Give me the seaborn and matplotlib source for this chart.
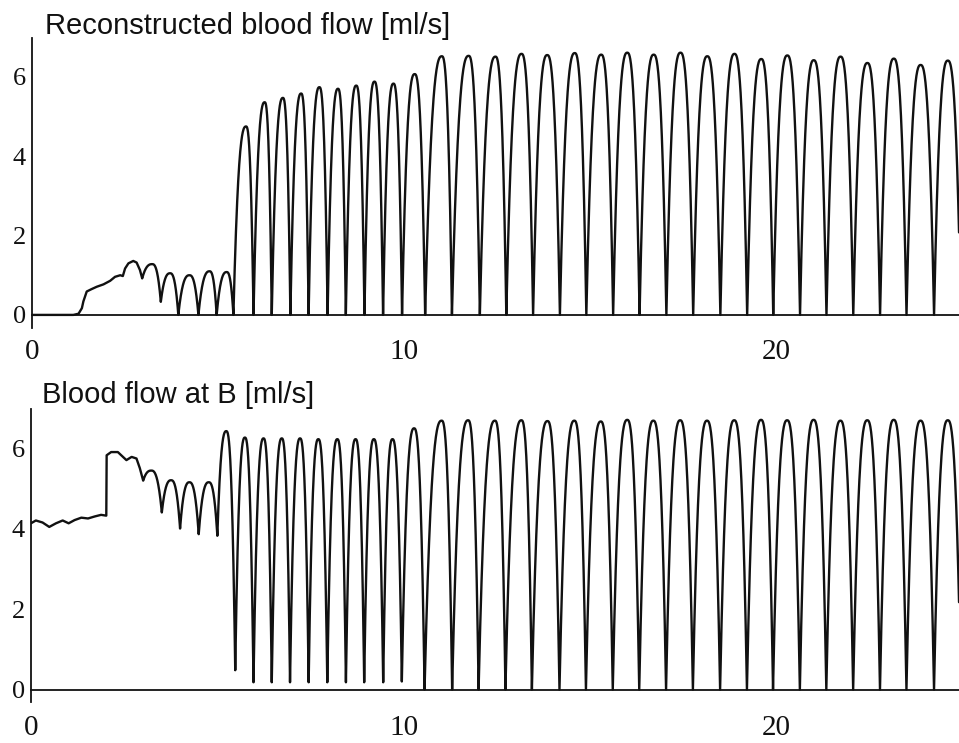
import numpy as np
import pandas as pd
import matplotlib
matplotlib.use("Agg")
import matplotlib.pyplot as plt
import seaborn as sns

# ---------------- data ----------------
# Top panel: reconstructed blood flow [ml/s]
top_pre_t = [0.0, 1.11, 1.25, 1.34, 1.38, 1.42, 1.47, 1.60, 1.74, 1.92, 2.10, 2.23,
             2.37, 2.44, 2.50, 2.59, 2.72, 2.81, 2.90, 2.96]
top_pre_v = [0.0, 0.0, 0.03, 0.17, 0.34, 0.45, 0.59, 0.65, 0.71, 0.77, 0.86, 0.96,
             1.00, 0.98, 1.17, 1.30, 1.36, 1.32, 1.13, 0.92]
top_trough_t = [2.96, 3.46, 3.93, 4.47, 4.96, 5.41, 5.95, 6.44, 6.94, 7.43, 7.94, 8.43,
                8.93, 9.43, 9.94, 10.56, 11.28, 12.03, 12.74, 13.46, 14.18, 14.89,
                15.61, 16.32, 17.04, 17.76, 18.49, 19.21, 19.91, 20.63, 21.34, 22.06,
                22.78, 23.49, 24.23, 24.95]
top_trough_v = [0.92, 0.33, 0.0, 0.0, 0.0, 0.0, 0.0, 0.0, 0.0, 0.0, 0.0, 0.0,
                0.0, 0.0, 0.0, 0.0, 0.0, 0.0, 0.0, 0.0, 0.0, 0.0,
                0.0, 0.0, 0.0, 0.0, 0.0, 0.0, 0.0, 0.0, 0.0, 0.0,
                0.0, 0.0, 0.0, 0.0]
top_peak_t = [3.23, 3.71, 4.23, 4.77, 5.23, 5.75, 6.25, 6.74, 7.23, 7.72, 8.22, 8.71,
              9.20, 9.71, 10.28, 11.01, 11.73, 12.45, 13.15, 13.84, 14.58, 15.29,
              15.99, 16.70, 17.42, 18.14, 18.87, 19.59, 20.29, 21.00, 21.72, 22.44,
              23.15, 23.87, 24.60]
top_peak_v = [1.28, 1.05, 1.00, 1.10, 1.08, 4.75, 5.36, 5.47, 5.58, 5.74, 5.70, 5.78,
              5.88, 5.83, 6.07, 6.52, 6.53, 6.51, 6.58, 6.55, 6.60, 6.56,
              6.61, 6.56, 6.61, 6.52, 6.58, 6.45, 6.54, 6.42, 6.51, 6.35,
              6.46, 6.30, 6.41]

# Bottom panel: blood flow at B [ml/s]
bot_pre_t = [0.0, 0.13, 0.31, 0.49, 0.67, 0.85, 1.01, 1.17, 1.35, 1.53, 1.71, 1.88,
             2.02, 2.03, 2.15, 2.33, 2.47, 2.56, 2.70, 2.83, 2.92, 3.01]
bot_pre_v = [4.13, 4.20, 4.15, 4.04, 4.13, 4.20, 4.13, 4.21, 4.27, 4.25, 4.30, 4.34,
             4.32, 5.82, 5.90, 5.90, 5.78, 5.70, 5.78, 5.74, 5.50, 5.19]
bot_trough_t = [3.01, 3.51, 4.00, 4.50, 5.00, 5.48, 5.97, 6.46, 6.95, 7.45, 7.95, 8.45,
                8.94, 9.45, 9.95, 10.56, 11.30, 12.01, 12.73, 13.44, 14.18, 14.89,
                15.61, 16.32, 17.04, 17.76, 18.49, 19.21, 19.91, 20.63, 21.34, 22.06,
                22.78, 23.49, 24.23, 24.95]
bot_trough_v = [5.19, 4.40, 4.00, 3.86, 3.82, 0.48, 0.18, 0.18, 0.18, 0.18, 0.18, 0.18,
                0.18, 0.18, 0.20, 0.0, 0.0, 0.0, 0.0, 0.0, 0.0, 0.0,
                0.0, 0.0, 0.0, 0.0, 0.0, 0.0, 0.0, 0.0, 0.0, 0.0,
                0.0, 0.0, 0.0, 0.0]
bot_peak_t = [3.23, 3.76, 4.25, 4.77, 5.24, 5.74, 6.24, 6.73, 7.22, 7.71, 8.22, 8.71,
              9.20, 9.70, 10.28, 11.02, 11.73, 12.45, 13.16, 13.86, 14.58, 15.29,
              16.00, 16.70, 17.42, 18.14, 18.87, 19.59, 20.29, 21.00, 21.72, 22.44,
              23.15, 23.87, 24.60]
bot_peak_v = [5.44, 5.20, 5.15, 5.15, 6.42, 6.26, 6.24, 6.24, 6.24, 6.22, 6.22, 6.22,
              6.22, 6.22, 6.49, 6.68, 6.69, 6.68, 6.69, 6.67, 6.68, 6.66,
              6.70, 6.68, 6.69, 6.68, 6.69, 6.70, 6.69, 6.70, 6.68, 6.69,
              6.70, 6.68, 6.69]

x_ticks = [0, 10, 20]
x_tick_labels = ["0", "10", "20"]
y_ticks = [0, 2, 4, 6]
y_tick_labels = ["0", "2", "4", "6"]
titles = ["Reconstructed blood flow [ml/s]", "Blood flow at B [ml/s]"]

LOBE_EXP = 2.6  # roundness of each beat lobe


def build_curve(pre_t, pre_v, trough_t, trough_v, peak_t, peak_v, n=50):
    """Join the read key points: the early trace, then one lobe per beat
    (trough -> peak -> trough)."""
    ts = list(pre_t[:-1])
    vs = list(pre_v[:-1])
    s = np.linspace(0.0, 1.0, n, endpoint=False)
    for i in range(len(peak_t)):
        t0, t1, t2 = trough_t[i], peak_t[i], trough_t[i + 1]
        v0, v1, v2 = trough_v[i], peak_v[i], trough_v[i + 1]
        ts += list(t0 + (t1 - t0) * s)
        vs += list(v0 + (v1 - v0) * (1 - (1 - s) ** LOBE_EXP))
        ts += list(t1 + (t2 - t1) * s)
        vs += list(v1 + (v2 - v1) * s ** LOBE_EXP)
    ts.append(trough_t[-1])
    vs.append(trough_v[-1])
    return pd.DataFrame({"t": ts, "flow": vs})


df_top = build_curve(top_pre_t, top_pre_v, top_trough_t, top_trough_v, top_peak_t, top_peak_v)
df_bot = build_curve(bot_pre_t, bot_pre_v, bot_trough_t, bot_trough_v, bot_peak_t, bot_peak_v)

# ---------------- drawing ----------------
sns.set_style("white")
plt.rcParams["font.family"] = ["Liberation Serif", "DejaVu Serif"]

W, H = 959, 743
fig = plt.figure(figsize=(W / 100, H / 100), dpi=100)
fig.patch.set_facecolor("white")


def px_axes(left, right, top, bottom):
    return fig.add_axes([left / W, 1 - bottom / H, (right - left) / W, (bottom - top) / H])


ax_top = px_axes(32, 959, 38, 328)
ax_bot = px_axes(31, 959, 409, 702)

panels = [
    (ax_top, df_top, (-0.33, 6.98), titles[0], (45, 33.5), 10),
    (ax_bot, df_bot, (-0.31, 6.97), titles[1], (42, 403.5), 11.5),
]

for ax, df, ylim, title, (tx, ty), xpad in panels:
    ax.set_facecolor("white")
    sns.lineplot(data=df, x="t", y="flow", ax=ax, color="#111111", linewidth=1.7,
                 sort=False, estimator=None, legend=False)
    ax.set_xlim(0, 24.9)
    ax.set_ylim(*ylim)
    ax.set_xlabel("")
    ax.set_ylabel("")
    for side in ["top", "right"]:
        ax.spines[side].set_visible(False)
    for side in ["left", "bottom"]:
        ax.spines[side].set_visible(True)
        ax.spines[side].set_color("#111111")
        ax.spines[side].set_linewidth(1.3)
    ax.spines["bottom"].set_position(("data", 0))
    ax.set_xticks(x_ticks)
    ax.set_xticklabels(x_tick_labels)
    ax.set_yticks(y_ticks)
    ax.set_yticklabels(y_tick_labels)
    ax.tick_params(axis="x", direction="out", length=7, width=1.2, pad=xpad,
                   labelsize=21, color="#111111", labelcolor="#111111")
    ax.tick_params(axis="y", direction="out", length=3.5, width=1.2, pad=1,
                   labelsize=19, color="#111111", labelcolor="#111111")
    ax.grid(False)
    fig.text(tx / W, 1 - ty / H, title, family=["Liberation Sans", "DejaVu Sans"],
             fontsize=21, color="#111111", ha="left", va="baseline")

fig.savefig("out.png", dpi=100, facecolor="white")
